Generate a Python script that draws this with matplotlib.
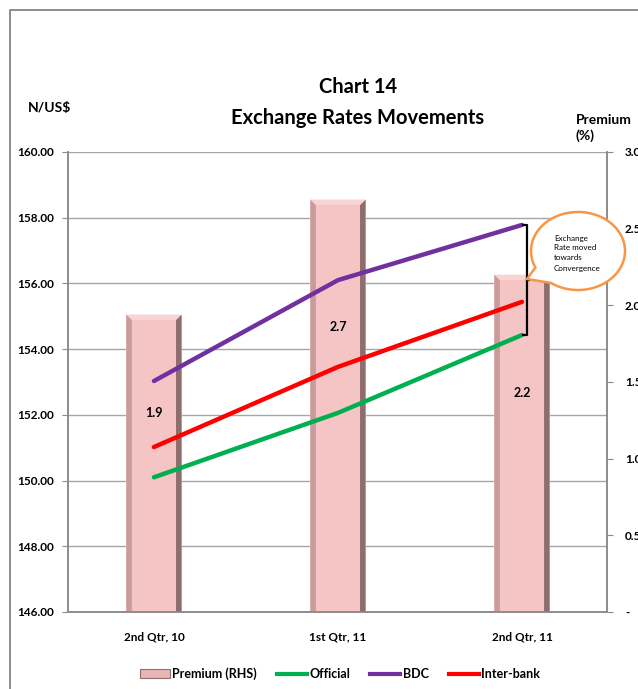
import numpy as np
import matplotlib
matplotlib.use("Agg")
import matplotlib.pyplot as plt
from matplotlib.patches import Polygon, Patch
from matplotlib.lines import Line2D

plt.rcParams['font.family'] = ['Lato', 'DejaVu Sans']

# data
quarters = ["2nd Qtr, 10", "1st Qtr, 11", "2nd Qtr, 11"]
premium = [1.94, 2.69, 2.20]
official = [150.10, 152.06, 154.43]
bdc = [153.03, 156.10, 157.78]
interbank = [151.02, 153.46, 155.44]
left_ticks = [146, 148, 150, 152, 154, 156, 158, 160]
right_ticks = [0, 0.5, 1.0, 1.5, 2.0, 2.5, 3.0]
right_lbls = ["-", "0.5", "1.0", "1.5", "2.0", "2.5", "3.0"]

W, H = 638, 689
fig = plt.figure(figsize=(W / 100, H / 100), dpi=100)
ax = fig.add_axes([68 / W, 1 - 612 / H, (607 - 68) / W, (612 - 152) / H])
ax2 = ax.twinx()
ax.set_zorder(ax2.get_zorder() + 1)
ax.patch.set_visible(False)

x = np.arange(len(quarters))
bw = 0.30

# grid (behind the bars)
ax2.hlines(left_ticks, 0, 1, transform=ax.get_yaxis_transform(),
           color="#a6a6a6", lw=1.0, zorder=0)

# bars with bevel
main_c, left_c, right_c, top_c = "#f5c4c4", "#c99c9c", "#8f6d6d", "#f9d4d4"
ax2.bar(x, premium, width=bw, color=main_c, zorder=2)
sx = 0.03
ty = 0.035
for xi, v in zip(x, premium):
    l, r = xi - bw / 2, xi + bw / 2
    ax2.add_patch(Polygon([(l, 0), (l, v), (l + sx, v - ty), (l + sx, 0)],
                          closed=True, color=left_c, lw=0, zorder=3))
    ax2.add_patch(Polygon([(r, 0), (r, v), (r - sx, v - ty), (r - sx, 0)],
                          closed=True, color=right_c, lw=0, zorder=3))
    ax2.add_patch(Polygon([(l, v), (r, v), (r - sx, v - ty), (l + sx, v - ty)],
                          closed=True, color=top_c, lw=0, zorder=3))

label_y = [1.30, 1.86, 1.43]
for xi, ly, v in zip(x, label_y, premium):
    ax2.text(xi, ly, f"{v:.1f}", ha="center", va="center", fontsize=9,
             fontweight="bold", zorder=4)

# lines
ax.plot(x, official, color="#00b050", lw=3.2, solid_capstyle="round", zorder=5)
ax.plot(x, bdc, color="#7030a0", lw=3.2, solid_capstyle="round", zorder=5)
ax.plot(x, interbank, color="#ff0000", lw=3.2, solid_capstyle="round", zorder=5)

# bracket between official and bdc at last point
bx = x[-1] + 0.025
ax.plot([bx - 0.018, bx, bx, bx - 0.018], [bdc[-1], bdc[-1], official[-1], official[-1]],
        color="black", lw=1.6, zorder=6)
mid = (bdc[-1] + official[-1]) / 2
ax.plot([bx, bx + 0.012], [mid, mid], color="black", lw=1.6, zorder=6)

# axes styling
ax.set_xlim(-0.467, 2.462)
ax.set_ylim(146, 160)
ax2.set_ylim(0, 3)
ax.set_yticks(left_ticks)
ax.set_yticklabels([f"{v:.2f}" for v in left_ticks], fontsize=8.5, fontweight="bold")
ax2.set_yticks(right_ticks)
ax2.set_yticklabels(right_lbls, fontsize=8.5, fontweight="bold")
ax.set_xticks(x)
ax.set_xticklabels(quarters, fontsize=8.5, fontweight="bold")
ax.tick_params(axis="x", length=0, pad=14)
ax.tick_params(axis="y", length=4, color="#8c8c8c", pad=6)
ax2.tick_params(axis="y", length=4, color="#8c8c8c", pad=9)
for a in (ax, ax2):
    a.spines["top"].set_visible(False)
    for s in ("left", "right", "bottom"):
        a.spines[s].set_color("#8c8c8c")
        a.spines[s].set_linewidth(1.2)

# titles
fig.text(358 / W, 1 - 87 / H, "Chart 14", ha="center", va="center",
         fontsize=14.5, fontweight="bold")
fig.text(358 / W, 1 - 118 / H, "Exchange Rates Movements", ha="center", va="center",
         fontsize=14.5, fontweight="bold")
fig.text(28 / W, 1 - 108 / H, "N/US$", ha="left", va="center",
         fontsize=10, fontweight="bold")
fig.text(576 / W, 1 - 128 / H, "Premium\n(%)", ha="left", va="center",
         fontsize=10, fontweight="bold", linespacing=1.35)

# legend
handles = [Patch(facecolor="#e8b6b6", edgecolor="#8f6d6d", lw=0.8),
           Line2D([], [], color="#00b050", lw=3),
           Line2D([], [], color="#7030a0", lw=3),
           Line2D([], [], color="#ff0000", lw=3)]
fig.legend(handles, ["Premium (RHS)", "Official", "BDC", "Inter-bank"],
           loc="center", bbox_to_anchor=(340 / W, 1 - 674 / H), ncol=4,
           frameon=False, handlelength=2.4, handletextpad=0.2, columnspacing=1.6,
           prop={"weight": "bold", "size": 9})

# overlay in pixel coords: border and callout
ov = fig.add_axes([0, 0, 1, 1], zorder=10)
ov.set_xlim(0, W)
ov.set_ylim(H, 0)
ov.axis("off")
ov.plot([10, 10, W], [H, 10, 10], color="#8c8c8c", lw=1.4)

cx, cy, a, b = 578, 251, 47, 39
t = np.radians(np.linspace(155, 125 + 360, 200))
pts = np.column_stack([cx + a * np.cos(t), cy + b * np.sin(t)])
pts = np.vstack([pts, [527, 279]])
ov.add_patch(Polygon(pts, closed=True, facecolor="white", edgecolor="#f79646", lw=1.8))
ov.text(554, 253, "Exchange\nRate moved\ntowards\nConvergence", ha="left", va="center",
        fontsize=5.8, linespacing=1.5)

fig.savefig("out.png", dpi=100)
